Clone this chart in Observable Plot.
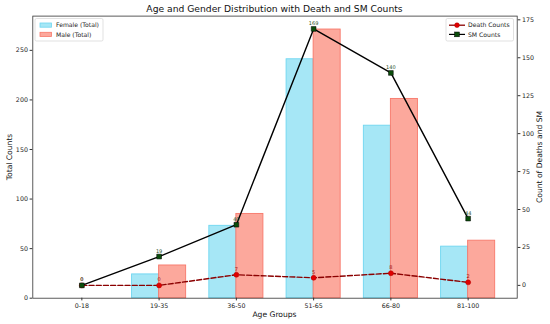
<!DOCTYPE html>
<html><head><meta charset="utf-8">
<script src="https://cdn.jsdelivr.net/npm/d3@7"></script>
<script src="https://cdn.jsdelivr.net/npm/@observablehq/plot@0.6"></script>
<style>
body{margin:0;background:#fff;}
#wrap{position:relative;width:550px;height:324px;font-family:"DejaVu Sans",sans-serif;overflow:hidden;}
#wrap > svg{position:absolute;left:0;top:0;}
.txt{position:absolute;white-space:nowrap;color:#111;font-family:"DejaVu Sans",sans-serif;}
</style></head><body><div id="wrap"></div>
<script>
const ageGroups = ["0-18","19-35","36-50","51-65","66-80","81-100"];
const femaleTotal = [0,24,73,241,174,52];
const maleTotal = [0,33,85,271,201,58];
const deathCounts = [0,0,7,5,8,2];
const smCounts = [0,19,40,169,140,44];
const leftTicks = [0,50,100,150,200,250];
const rightTicks = [0,25,50,75,100,125,150,175];

const rows = ageGroups.map((g,i)=>({i, g, female:femaleTotal[i], male:maleTotal[i], death:deathCounts[i], sm:smCounts[i]}));

const W=550,H=324, mL=32.3, mR=33.3, mT=15.6, mB=26.3;
const xDomain = [-0.635,5.635];
const fontStyle = {fontFamily:"DejaVu Sans, sans-serif", fontSize:"6.3px", color:"#222", background:"transparent", overflow:"visible"};

const plotA = Plot.plot({
  width:W, height:H, marginLeft:mL, marginRight:mR, marginTop:mT, marginBottom:mB,
  x:{type:"linear", domain:xDomain}, y:{domain:[0,284.55]},
  style:fontStyle,
  marks:[
    Plot.rectY(rows,{x1:d=>d.i-0.35, x2:d=>d.i, y:"female", fill:"#a6e7f6", stroke:"#6fd6f0", strokeWidth:0.9}),
    Plot.rectY(rows,{x1:d=>d.i, x2:d=>d.i+0.35, y:"male", fill:"#fca89c", stroke:"#f7786a", strokeWidth:0.9}),
    Plot.axisX({ticks:ageGroups.map((_,i)=>i), tickFormat:i=>ageGroups[i], tickSize:2.7, tickPadding:2.2, label:null, stroke:"#333"}),
    Plot.axisY({ticks:leftTicks, tickSize:2.7, tickPadding:2.2, label:null, stroke:"#333"}),
    Plot.frame({stroke:"#333", strokeWidth:0.8})
  ]
});

const plotB = Plot.plot({
  width:W, height:H, marginLeft:mL, marginRight:mR, marginTop:mT, marginBottom:mB,
  x:{type:"linear", domain:xDomain, axis:null}, y:{domain:[-8.45,177.45]},
  style:fontStyle,
  marks:[
    Plot.axisY({anchor:"right", ticks:rightTicks, tickSize:2.7, tickPadding:2.2, label:null, stroke:"#333"}),
    Plot.line(rows,{x:"i", y:"death", stroke:"#8b0000", strokeWidth:1.4, strokeDasharray:"5,2.2"}),
    Plot.dot(rows,{x:"i", y:"death", r:2.5, fill:"#e00000", stroke:"#b00000", strokeWidth:0.5}),
    Plot.text(rows,{x:"i", y:"death", text:d=>String(d.death), dy:-5.5, fill:"#a01010", fontSize:5}),
    Plot.line(rows,{x:"i", y:"sm", stroke:"#000", strokeWidth:1.4}),
    Plot.dot(rows,{x:"i", y:"sm", symbol:"square", r:2.7, fill:"#0b4d0b", stroke:"#000", strokeWidth:0.5}),
    Plot.text(rows,{x:"i", y:"sm", text:d=>String(d.sm), dy:-5.5, fill:"#1f4f1f", fontSize:5})
  ]
});

const wrap = document.getElementById("wrap");
wrap.appendChild(plotA);
wrap.appendChild(plotB);

function addText(t, css){ const d=document.createElement("div"); d.className="txt"; d.textContent=t; Object.assign(d.style, css); wrap.appendChild(d); return d; }
addText("Age and Gender Distribution with Death and SM Counts",{left:mL+"px", width:(W-mL-mR)+"px", textAlign:"center", top:"2.5px", fontSize:"9.2px", lineHeight:"12px"});
addText("Age Groups",{left:mL+"px", width:(W-mL-mR)+"px", textAlign:"center", top:"310px", fontSize:"7.6px", lineHeight:"10px"});
addText("Total Counts",{left:"9.5px", top:"156.7px", fontSize:"7.6px", lineHeight:"10px", transform:"translate(-50%,-50%) rotate(-90deg)"});
addText("Count of Deaths and SM",{left:"539.5px", top:"156.7px", fontSize:"7.6px", lineHeight:"10px", transform:"translate(-50%,-50%) rotate(-90deg)"});

// legends
const ns="http://www.w3.org/2000/svg";
const leg = document.createElementNS(ns,"svg");
leg.setAttribute("width",W); leg.setAttribute("height",H);
leg.style.position="absolute"; leg.style.left="0"; leg.style.top="0"; leg.style.overflow="visible";
leg.innerHTML = `
<g font-family="DejaVu Sans, sans-serif" font-size="6.1" fill="#222">
<rect x="35" y="18.5" width="68" height="22.5" rx="1.5" fill="rgba(255,255,255,0.8)" stroke="#ccc" stroke-width="0.6"/>
<rect x="40" y="23" width="11.5" height="4.2" fill="#a6e7f6" stroke="#6fd6f0" stroke-width="0.8"/>
<text x="56" y="27.3">Female (Total)</text>
<rect x="40" y="32.3" width="11.5" height="4.2" fill="#fca89c" stroke="#f7786a" stroke-width="0.8"/>
<text x="56" y="36.6">Male (Total)</text>
<rect x="446" y="18.5" width="67.5" height="22.5" rx="1.5" fill="rgba(255,255,255,0.8)" stroke="#ccc" stroke-width="0.6"/>
<line x1="449" x2="465" y1="25.2" y2="25.2" stroke="#8b0000" stroke-width="1.3"/>
<circle cx="457" cy="25.2" r="2.4" fill="#e00000" stroke="#b00000" stroke-width="0.5"/>
<text x="468" y="27.3">Death Counts</text>
<line x1="449" x2="465" y1="34.4" y2="34.4" stroke="#000" stroke-width="1.2"/>
<rect x="454.6" y="32" width="4.8" height="4.8" fill="#0b4d0b" stroke="#000" stroke-width="0.5"/>
<text x="468" y="36.6">SM Counts</text>
</g>`;
wrap.appendChild(leg);
</script></body></html>
